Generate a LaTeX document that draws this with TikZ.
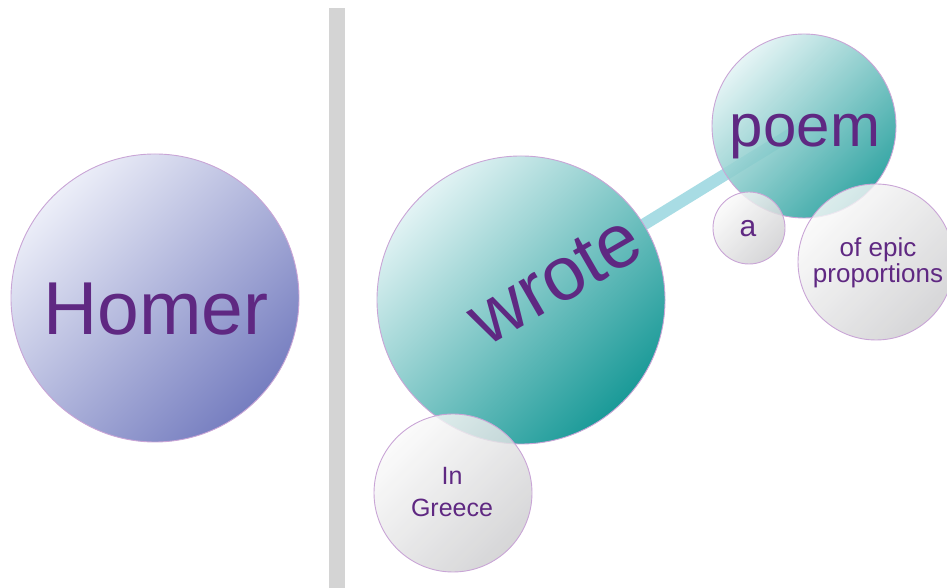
\documentclass[tikz,border=0pt]{standalone}
\usepackage{fontspec}
\setmainfont{Liberation Sans}
\usetikzlibrary{backgrounds}
\definecolor{txtpurple}{HTML}{5F2882}
\definecolor{rimcol}{HTML}{C9A5D6}
\definecolor{homerA}{HTML}{ECEEF8}
\definecolor{homerB}{HTML}{767EC0}
\definecolor{tealA}{HTML}{E2F3F4}
\definecolor{tealB}{HTML}{1A9A98}
\definecolor{greyA}{HTML}{FAFAFA}
\definecolor{greyB}{HTML}{CDCDCF}
\definecolor{barcol}{HTML}{D4D4D4}
\definecolor{linkcol}{HTML}{A8DCE4}
\tikzset{
  bubble/.style={circle, draw=rimcol, line width=0.9pt, inner sep=0pt, minimum size=#1},
  homerfill/.style={top color=homerA, bottom color=homerB, shading angle=45},
  tealfill/.style={top color=tealA, bottom color=tealB, shading angle=45},
  greyfill/.style={top color=greyA, bottom color=greyB, shading angle=45, fill opacity=0.82},
  word/.style={text=txtpurple, inner sep=0pt},
  link/.style={draw=linkcol, line width=12pt}
}
\begin{document}
\begin{tikzpicture}[x=1pt,y=1pt]
\useasboundingbox (0,0) rectangle (947,588);
% divider
\fill[barcol] (329,0) rectangle (345,580);
% circles
\node[bubble=288pt, homerfill] (homer) at (155,290) {};
\node[bubble=288pt, tealfill] (wrote) at (521,288) {};
\node[bubble=184pt, tealfill, fill opacity=0.88] (poem) at (804,462) {};
\node[bubble=72pt, greyfill] (a) at (749,360) {};
\node[bubble=156pt, greyfill] (epic) at (876,326) {};
\node[bubble=158pt, greyfill] (greece) at (453,95) {};
% connector
\begin{scope}[on background layer]
\draw[link] (wrote.center) -- (poem.center);
\end{scope}
% texts
\node[word, anchor=base, font=\fontsize{75}{75}\selectfont] (thomer) at (156,253) {Homer};
\node[word, rotate=30, font=\fontsize{76}{76}\selectfont] (twrote) at (555,308) {wrote};
\node[word, anchor=base, font=\fontsize{60}{60}\selectfont] (tpoem) at (805,441) {poem};
\node[word, font=\fontsize{30}{30}\selectfont] (ta) at (748,359) {a};
\node[word, align=center, font=\fontsize{26}{26}\selectfont] (tepic) at (878,325) {of epic\\proportions};
\node[word, align=center, font=\fontsize{25}{32}\selectfont] (tgreece) at (452,96) {In\\Greece};
\end{tikzpicture}
\end{document}
